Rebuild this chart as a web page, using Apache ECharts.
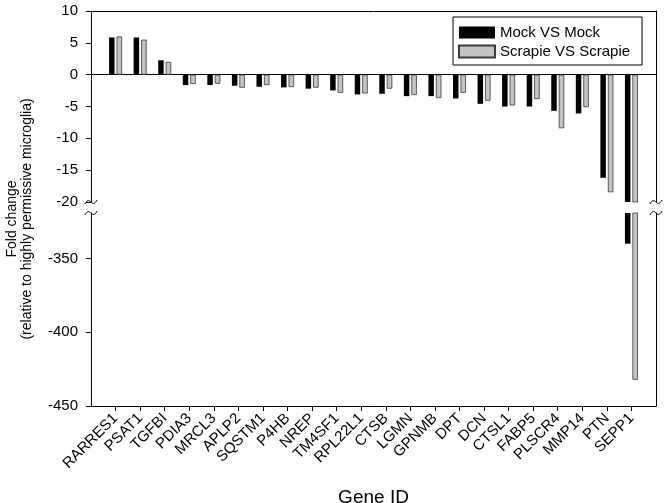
<!DOCTYPE html>
<html lang="en" style="height: 100%">

<head>
  <meta charset="utf-8">
</head>

<body style="height: 100%; margin: 0; background-color: #fff">
  <div id="container" style="width: 666px; height: 503px"></div>

  <script type="text/javascript" src="https://cdn.jsdelivr.net/npm/echarts@6.0.0/dist/echarts.min.js"></script>

  <script type="text/javascript">
    var dom = document.getElementById('container');
    var myChart = echarts.init(dom, null, { renderer: 'canvas' });

    // ------- data -------
    var genes = ['RARRES1', 'PSAT1', 'TGFBI', 'PDIA3', 'MRCL3', 'APLP2', 'SQSTM1', 'P4HB', 'NREP', 'TM4SF1',
      'RPL22L1', 'CTSB', 'LGMN', 'GPNMB', 'DPT', 'DCN', 'CTSL1', 'FABP5', 'PLSCR4', 'MMP14', 'PTN', 'SEPP1'];
    var mockValues = [5.84, 5.84, 2.26, -1.63, -1.63, -1.74, -1.9, -2.0, -2.2, -2.47,
      -3.1, -3.0, -3.37, -3.37, -3.74, -4.58, -5.0, -5.0, -5.68, -6.1, -16.2, -339.8];
    var scrapieValues = [6.0, 5.5, 2.0, -1.47, -1.42, -2.05, -1.63, -1.95, -2.05, -2.84,
      -2.95, -2.2, -3.2, -3.68, -2.84, -4.1, -4.84, -3.84, -8.42, -5.1, -18.47, -432.2];
    var seriesNames = ['Mock VS Mock', 'Scrapie VS Scrapie'];
    var upperRange = [-20, 10];     // part above the axis break
    var lowerRange = [-450, -319];  // part below the axis break
    var lowerTicks = [-450, -400, -350];

    // one empty slot on each side so the first/last gene sit one step in from the frame
    var cats = [''].concat(genes, ['']);
    function pad(arr) { return ['-'].concat(arr, ['-']); }

    var font = 'Liberation Sans, Arial, sans-serif';
    var black = '#000';

    function barSeries(name, values, xi, yi, color) {
      return {
        name: name,
        type: 'bar',
        xAxisIndex: xi,
        yAxisIndex: yi,
        barWidth: 5.5,
        barGap: '36%',
        clip: true,
        itemStyle: {
          color: color,
          borderColor: color === black ? black : '#3a3a3a',
          borderWidth: color === black ? 0 : 0.8
        },
        emphasis: { disabled: true },
        data: pad(values)
      };
    }

    function frameAxis(gi, pos, isX, range) {
      var ax = {
        gridIndex: gi,
        position: pos,
        axisLine: { show: true, onZero: false, lineStyle: { color: black, width: 1 } },
        axisTick: { show: false },
        axisLabel: { show: false },
        splitLine: { show: false }
      };
      if (isX) {
        ax.type = 'category';
        ax.data = cats;
        ax.boundaryGap = false;
      } else {
        ax.type = 'value';
        ax.min = range[0];
        ax.max = range[1];
      }
      return ax;
    }

    // small wavy break marks on the two vertical lines
    function breakMark(cx, cy) {
      return {
        type: 'bezierCurve',
        shape: { x1: cx - 6, y1: cy + 2, x2: cx + 6, y2: cy - 2, cpx1: cx - 1, cpy1: cy - 8, cpx2: cx + 1, cpy2: cy + 8 },
        style: { stroke: black, lineWidth: 1, fill: null }
      };
    }

    var option = {
      backgroundColor: '#fff',
      animation: false,
      textStyle: { fontFamily: font, color: black },
      grid: [
        { left: 91, right: 10, top: 11, height: 191, outerBoundsMode: 'none' },
        { left: 91, right: 10, top: 213, height: 193, outerBoundsMode: 'none' }
      ],
      legend: {
        data: seriesNames,
        orient: 'vertical',
        left: 453,
        top: 17,
        icon: 'rect',
        itemWidth: 36,
        itemHeight: 12,
        itemGap: 4,
        itemTextGap: 9,
        padding: [8, 12, 6, 5],
        borderColor: black,
        borderWidth: 1,
        borderRadius: 0,
        backgroundColor: '#fff',
        textStyle: { fontFamily: font, fontSize: 15, color: black }
      },
      xAxis: [
        // zero line of the upper part
        {
          gridIndex: 0, type: 'category', data: cats, boundaryGap: false, position: 'bottom',
          axisLine: { show: true, onZero: true, lineStyle: { color: black, width: 1 } },
          axisTick: { show: false }, axisLabel: { show: false }, splitLine: { show: false }
        },
        frameAxis(0, 'top', true),
        {
          gridIndex: 1, type: 'category', data: cats, boundaryGap: false, position: 'bottom',
          name: 'Gene ID',
          nameLocation: 'middle',
          nameGap: 82,
          nameTextStyle: { fontFamily: font, fontSize: 19, color: black },
          axisLine: { show: true, onZero: false, lineStyle: { color: black, width: 1 } },
          axisTick: {
            show: true, length: 5, lineStyle: { color: black },
            interval: function (i, v) { return v !== ''; }
          },
          axisLabel: { interval: 0, rotate: 45, margin: 10, fontFamily: font, fontSize: 15, color: black },
          splitLine: { show: false }
        }
      ],
      yAxis: [
        {
          gridIndex: 0, type: 'value', position: 'left',
          min: upperRange[0], max: upperRange[1], interval: 5,
          axisLine: { show: true, lineStyle: { color: black, width: 1 } },
          axisTick: { show: true, length: 5, lineStyle: { color: black } },
          axisLabel: { margin: 13, fontFamily: font, fontSize: 15, color: black },
          splitLine: { show: false }
        },
        frameAxis(0, 'right', false, upperRange),
        {
          gridIndex: 1, type: 'value', position: 'left',
          min: lowerRange[0], max: lowerRange[1],
          axisLine: { show: true, lineStyle: { color: black, width: 1 } },
          axisTick: { show: true, length: 5, lineStyle: { color: black }, customValues: lowerTicks },
          axisLabel: { margin: 13, fontFamily: font, fontSize: 15, color: black, customValues: lowerTicks },
          splitLine: { show: false }
        },
        frameAxis(1, 'right', false, lowerRange)
      ],
      graphic: [
        {
          type: 'text',
          x: 20,
          y: 219,
          rotation: Math.PI / 2,
          style: {
            text: 'Fold change\n(relative to highly permissive microglia)',
            align: 'center',
            verticalAlign: 'middle',
            lineHeight: 15,
            font: '14px ' + font,
            fill: black
          }
        },
        breakMark(91, 202),
        breakMark(91, 213),
        breakMark(656, 202),
        breakMark(656, 213)
      ],
      series: [
        barSeries(seriesNames[0], mockValues, 0, 0, black),
        barSeries(seriesNames[1], scrapieValues, 0, 0, '#c4c4c4'),
        barSeries(seriesNames[0], mockValues, 2, 2, black),
        barSeries(seriesNames[1], scrapieValues, 2, 2, '#c4c4c4')
      ]
    };

    myChart.setOption(option);
    window.addEventListener('resize', myChart.resize);
  </script>
</body>

</html>
